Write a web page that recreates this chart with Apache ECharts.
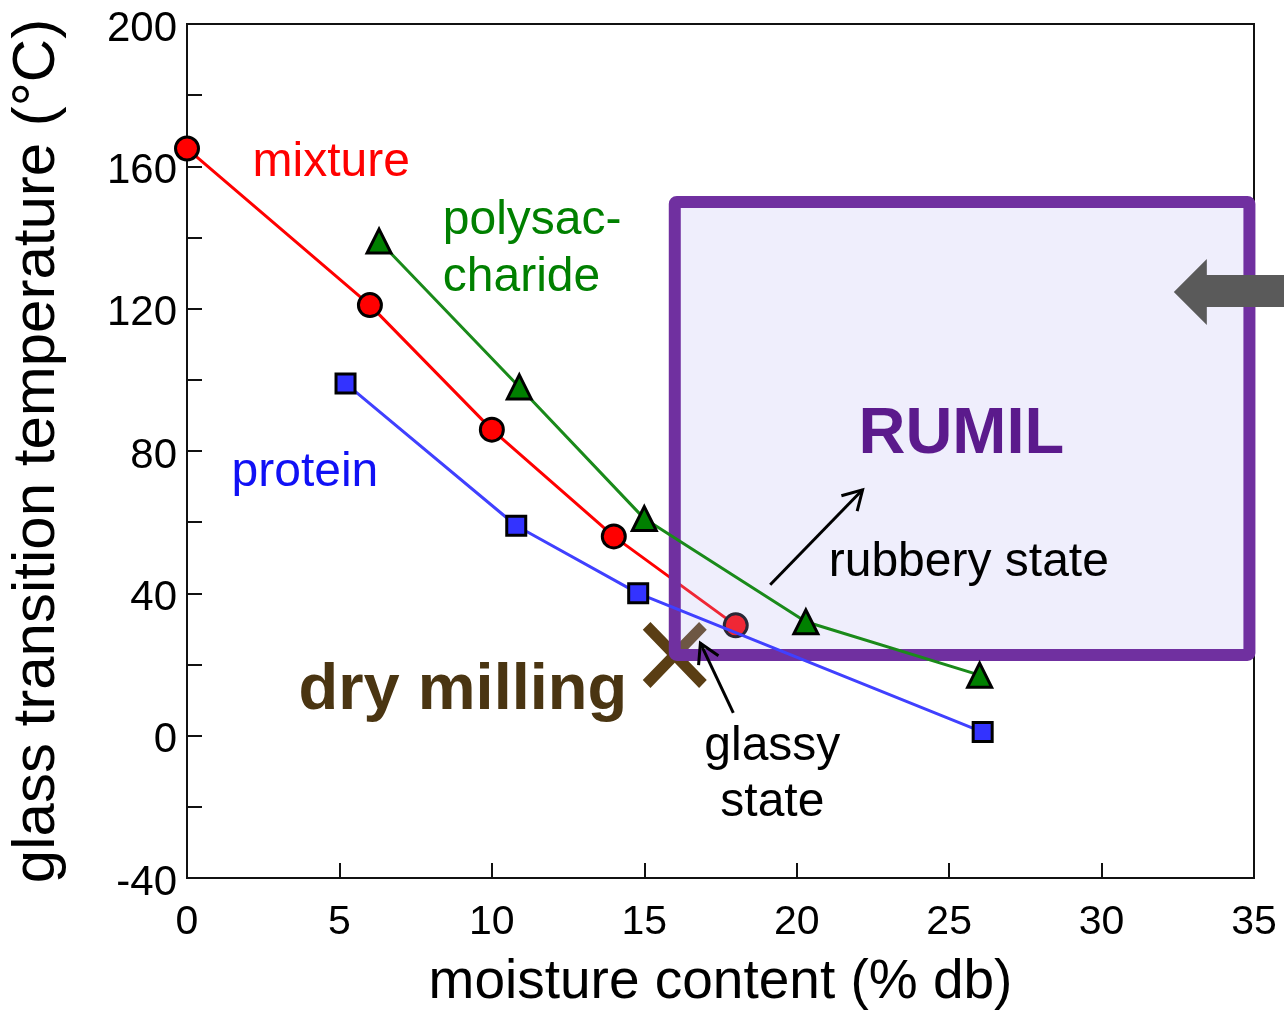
<!DOCTYPE html>
<html>
<head>
<meta charset="utf-8">
<script src="https://cdn.jsdelivr.net/npm/echarts@6/dist/echarts.min.js"></script>
<style>
  html, body { margin: 0; padding: 0; background: #ffffff; }
  #chart { width: 1284px; height: 1011px; }
</style>
</head>
<body>
<div id="chart"></div>
<script>
// Glass transition temperature vs. moisture content
const mixtureX = [0, 6, 10, 14, 18];
const mixtureY = [165, 121, 86, 56, 31];
const polysaccharideX = [6.3, 10.9, 15, 20.3, 26];
const polysaccharideY = [139, 98, 61, 32, 17];
const proteinX = [5.2, 10.8, 14.8, 26.1];
const proteinY = [99, 59, 40, 1];

// Operating regions
const dryMillingPoint = [16, 22.7];
const rumilX = [16, 34.85];
const rumilY = [22.7, 150];

const FONT = '"Liberation Sans", Arial, Helvetica, sans-serif';

const pairs = (xs, ys) => xs.map((x, i) => [x, ys[i]]);

// thick X marker outline
const crossPath = 'path://M0,1.2 L1.2,0 L5,3.8 L8.8,0 L10,1.2 L6.2,5 L10,8.8 L8.8,10 L5,6.2 L1.2,10 L0,8.8 L3.8,5 Z';

const chart = echarts.init(document.getElementById('chart'), null, { renderer: 'canvas' });

const option = {
  animation: false,
  backgroundColor: '#ffffff',
  grid: {
    left: 187, right: 30, top: 24, bottom: 133,
    outerBoundsMode: 'none', containLabel: false,
    show: true, borderColor: '#111', borderWidth: 2, backgroundColor: 'transparent'
  },
  xAxis: {
    type: 'value', min: 0, max: 35, interval: 5,
    name: 'moisture content (% db)',
    nameLocation: 'middle', nameGap: 77,
    nameTextStyle: { fontFamily: FONT, fontSize: 55, color: '#000' },
    axisLine: { show: true, onZero: false, lineStyle: { color: '#111', width: 2 } },
    axisTick: { show: true, inside: true, length: 15, lineStyle: { color: '#111', width: 2 } },
    axisLabel: { fontFamily: FONT, fontSize: 41, color: '#000', margin: 24 },
    splitLine: { show: false }
  },
  yAxis: {
    type: 'value', min: -40, max: 200, interval: 20,
    name: 'glass transition temperature (°C)',
    nameLocation: 'middle', nameGap: 120, nameRotate: 90,
    nameTextStyle: { fontFamily: FONT, fontSize: 60, color: '#000' },
    axisLine: { show: true, onZero: false, lineStyle: { color: '#111', width: 2 } },
    axisTick: { show: true, inside: true, length: 15, lineStyle: { color: '#111', width: 2 } },
    axisLabel: {
      fontFamily: FONT, fontSize: 42, color: '#000', margin: 10,
      formatter: v => (v % 40 === 0 ? '{t|' + v + '}' : ''),
      rich: { t: { fontFamily: FONT, fontSize: 42, color: '#000', padding: [10, 0, 0, 0] } }
    },
    splitLine: { show: false }
  },
  series: [
    {
      name: 'dry milling',
      type: 'scatter',
      z: 1,
      symbol: crossPath,
      symbolSize: [64, 66],
      itemStyle: { color: '#5A3E14', opacity: 1 },
      data: [dryMillingPoint]
    },
    {
      name: 'mixture',
      type: 'line',
      z: 2,
      data: pairs(mixtureX, mixtureY),
      lineStyle: { color: '#FF0000', width: 3 },
      symbol: 'circle', symbolSize: 23,
      itemStyle: { color: '#FF0000', borderColor: '#000', borderWidth: 3 }
    },
    {
      name: 'RUMIL',
      type: 'custom',
      z: 3,
      data: [[rumilX[0], rumilY[0], rumilX[1], rumilY[1]]],
      renderItem: (params, api) => {
        const p0 = api.coord([api.value(0), api.value(3)]);
        const p1 = api.coord([api.value(2), api.value(1)]);
        return {
          type: 'rect',
          shape: { x: p0[0], y: p0[1], width: p1[0] - p0[0], height: p1[1] - p0[1], r: 2 },
          style: { fill: 'rgba(180,178,240,0.22)', stroke: '#7030A0', lineWidth: 12, lineJoin: 'round' }
        };
      }
    },
    {
      name: 'polysaccharide',
      type: 'line',
      z: 4,
      data: pairs(polysaccharideX, polysaccharideY),
      lineStyle: { color: '#1A8A1A', width: 3 },
      symbol: 'triangle', symbolSize: [24, 24],
      itemStyle: { color: '#008000', borderColor: '#000', borderWidth: 3 }
    },
    {
      name: 'protein',
      type: 'line',
      z: 4,
      data: pairs(proteinX, proteinY),
      lineStyle: { color: '#4040FF', width: 3 },
      symbol: 'rect', symbolSize: 19,
      itemStyle: { color: '#3333FF', borderColor: '#000', borderWidth: 3 }
    }
  ]
};

chart.setOption(option);

const px = p => chart.convertToPixel({ xAxisIndex: 0, yAxisIndex: 0 }, p);

function text(pos, str, opts) {
  const p = px(pos);
  return {
    type: 'text', x: p[0], y: p[1], z: 10,
    style: Object.assign({
      text: str, fontFamily: FONT, fontSize: 48, fill: '#000',
      align: 'left', verticalAlign: 'middle'
    }, opts)
  };
}

function arrow(from, to) {
  const a = px(from), b = px(to);
  const ang = Math.atan2(b[1] - a[1], b[0] - a[0]);
  const len = 22, spread = Math.PI / 6;
  const h1 = [b[0] - len * Math.cos(ang - spread), b[1] - len * Math.sin(ang - spread)];
  const h2 = [b[0] - len * Math.cos(ang + spread), b[1] - len * Math.sin(ang + spread)];
  const st = { stroke: '#000', lineWidth: 3, fill: null, lineCap: 'butt', lineJoin: 'miter' };
  return [
    { type: 'line', z: 10, shape: { x1: a[0], y1: a[1], x2: b[0], y2: b[1] }, style: st },
    { type: 'polyline', z: 10, shape: { points: [h1, b, h2] }, style: st }
  ];
}

const tip = px([32.37, 124.7]);

chart.setOption({
  graphic: [
    text([2.15, 161.0], 'mixture', { fill: '#FF0000' }),
    text([8.39, 136.7], 'polysac-\ncharide', { fill: '#008000', lineHeight: 57 }),
    text([1.46, 73.9], 'protein', { fill: '#1010F5' }),
    text([25.4, 84.5], 'RUMIL', { fill: '#5B1A8C', fontSize: 65, fontWeight: 'bold', align: 'center' }),
    text([21.05, 48.6], 'rubbery state', {}),
    text([14.44, 12.5], 'dry milling', { fill: '#4A3512', fontSize: 65, fontWeight: 'bold', align: 'right' }),
    text([19.2, -11.0], 'glassy\nstate', { align: 'center', lineHeight: 56 }),
    ...arrow([19.13, 42.4], [22.16, 69.1]),
    ...arrow([17.92, 6.4], [16.84, 26.0]),
    {
      type: 'polygon', z: 10,
      shape: {
        points: [
          [tip[0], tip[1]],
          [tip[0] + 33, tip[1] - 33],
          [tip[0] + 33, tip[1] - 17],
          [tip[0] + 130, tip[1] - 17],
          [tip[0] + 130, tip[1] + 15],
          [tip[0] + 33, tip[1] + 15],
          [tip[0] + 33, tip[1] + 33]
        ]
      },
      style: { fill: '#5A5A5A' }
    }
  ]
});
</script>
</body>
</html>
